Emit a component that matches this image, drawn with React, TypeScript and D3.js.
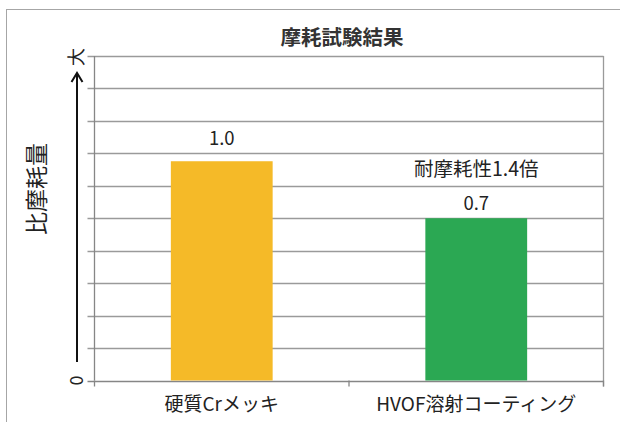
import React from "react";
import * as d3 from "d3";

const categories: string[] = ["硬質Crメッキ", "HVOF溶射コーティング"];
const values: number[] = [1.0, 0.74];
const barColors: string[] = ["#F5BA28", "#2BA853"];
const yMax = 1.48;
const gridCount = 10;
const titleText = "摩耗試験結果";
const yTitle = "比摩耗量";
const yTopLabel = "大";
const yBottomLabel = "0";
const annotation = "耐摩耗性1.4倍";

const W = 620;
const H = 422;
const M = { left: 94.5, right: 603.5, top: 56, bottom: 380.5 };
const FONT = "'Noto Sans CJK JP', 'Noto Sans', sans-serif";
const labelGap = [16, 8.5];

export default function App() {
  const x = d3
    .scaleBand<string>()
    .domain(categories)
    .range([M.left, M.right])
    .paddingInner(0.6)
    .paddingOuter(0.3);
  const y = d3.scaleLinear().domain([0, yMax]).range([M.bottom, M.top]);
  const gridVals = d3.range(gridCount + 1).map((i) => (yMax * i) / gridCount);
  const fmt = d3.format(".1f");
  const step = x.step();
  const xTicks = [M.left, M.left + step, M.right];
  const arrowX = 77;
  const arrowTop = 73;
  const arrowBottom = 362;

  return (
    <svg
      width={W}
      height={H}
      style={{ position: "fixed", left: 0, top: 0, background: "#fff" }}
      fontFamily={FONT}
    >
      <rect x={0} y={0} width={W} height={H} fill="#fff" />
      <rect x={6.5} y={9.5} width={W + 50} height={H + 50} fill="none" stroke="#a6a6a6" strokeWidth={1} />
      <text x={342} y={45} textAnchor="middle" fontSize={20.5} fontWeight="bold" fill="#333">
        {titleText}
      </text>
      {gridVals.map((v, i) => (
        <line
          key={"g" + i}
          x1={M.left - 7}
          x2={M.right}
          y1={Math.round(y(v)) + 0.5}
          y2={Math.round(y(v)) + 0.5}
          stroke={i === 0 ? "#868686" : "#9a9a9a"}
          strokeWidth={1.3}
        />
      ))}
      <line x1={M.right} x2={M.right} y1={M.top} y2={M.bottom + 6} stroke="#9a9a9a" strokeWidth={1.3} />
      <line x1={M.left} x2={M.left} y1={M.top} y2={M.bottom} stroke="#868686" strokeWidth={1.3} />
      {xTicks.map((t, i) => (
        <line key={"xt" + i} x1={t} x2={t} y1={M.bottom} y2={M.bottom + 6} stroke="#868686" strokeWidth={1.3} />
      ))}
      {categories.map((c, i) => (
        <rect
          key={"b" + i}
          x={x(c)!}
          y={y(values[i])}
          width={x.bandwidth()}
          height={y(0) - y(values[i])}
          fill={barColors[i]}
        />
      ))}
      {categories.map((c, i) => (
        <text
          key={"v" + i}
          x={x(c)! + x.bandwidth() / 2}
          y={y(values[i]) - labelGap[i]}
          textAnchor="middle"
          fontSize={18.5}
          fill="#222"
        >
          {fmt(values[i])}
        </text>
      ))}
      <text
        x={x(categories[1])! + x.bandwidth() / 2}
        y={y(values[1]) - 42}
        textAnchor="middle"
        fontSize={19.5}
        fill="#222"
      >
        {annotation}
      </text>
      {categories.map((c, i) => (
        <text
          key={"c" + i}
          x={x(c)! + x.bandwidth() / 2}
          y={411}
          textAnchor="middle"
          fontSize={19}
          fill="#222"
        >
          {c}
        </text>
      ))}
      <text
        transform={`translate(75,${y(0)}) rotate(-90)`}
        textAnchor="middle"
        dominantBaseline="central"
        fontSize={18}
        fill="#222"
      >
        {yBottomLabel}
      </text>
      <text
        transform={`translate(75,${y(yMax) + 1}) rotate(-90)`}
        textAnchor="middle"
        dominantBaseline="central"
        fontSize={18}
        fill="#222"
      >
        {yTopLabel}
      </text>
      <line x1={arrowX} x2={arrowX} y1={arrowBottom} y2={arrowTop + 1} stroke="#111" strokeWidth={2} />
      <polyline
        points={`${arrowX - 5.5},${arrowTop + 9} ${arrowX},${arrowTop} ${arrowX + 5.5},${arrowTop + 9}`}
        fill="none"
        stroke="#111"
        strokeWidth={2}
      />
      <text
        transform={`translate(35,189) rotate(-90)`}
        textAnchor="middle"
        dominantBaseline="central"
        fontSize={23}
        fill="#222"
      >
        {yTitle}
      </text>
    </svg>
  );
}
